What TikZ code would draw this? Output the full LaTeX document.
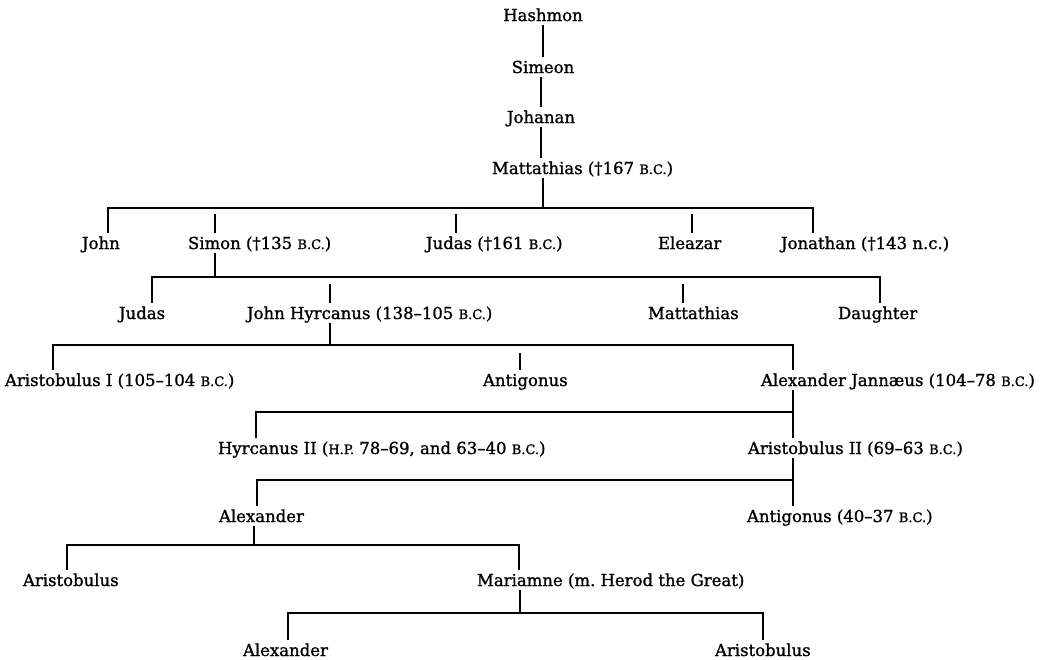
\documentclass[tikz,border=0pt]{standalone}
\usepackage{fontspec}
\setmainfont[FakeBold=1.2]{DejaVu Serif}
\usepackage{tikz}
\newcommand{\smcap}[1]{{\fontsize{13}{14}\selectfont #1}}
\tikzset{
  person/.style={anchor=base west,inner sep=0pt,outer xsep=0pt,outer ysep=4.5pt,
    text height=12pt,text depth=0pt,font=\fontsize{16.5}{19}\selectfont},
  tie/.style={line width=1.2pt,line cap=rect},
}

\begin{document}
\begin{tikzpicture}[x=1pt,y=-1pt]
  \useasboundingbox (0,0) rectangle (1049,659);
  % line of descent
  \node[person,anchor=base] (hashmon) at (543,21) {Hashmon};
  \node[person,anchor=base] (simeon) at (543,73) {Simeon};
  \node[person,anchor=base] (johanan) at (541,123) {Johanan};
  \node[person] (matt) at (492,174) {Mattathias (†167 \smcap{B.C.})};
  \draw[tie] (hashmon.south) -- (simeon.north);
  \draw[tie] (simeon.south -| johanan.north) -- (johanan.north);
  \draw[tie] (johanan.south) -- (johanan.south |- matt.north);
  % sons of Mattathias
  \node[person] (john) at (82,249) {John};
  \node[person] (simon) at (188,249) {Simon (†135 \smcap{B.C.})};
  \node[person] (judas) at (426,249) {Judas (†161 \smcap{B.C.})};
  \node[person] (eleazar) at (658,249) {Eleazar};
  \node[person] (jonathan) at (781,249) {Jonathan (†143 n.c.)};
  \coordinate (b1) at (543,208);
  \draw[tie] ([xshift=51pt]matt.south west) -- (b1);
  \draw[tie] ([xshift=26pt]john.north west) |- (b1) -| ([xshift=32pt]jonathan.north west);
  \draw[tie] ([xshift=27pt]simon.north west) -- ++(0,-18);
  \draw[tie] ([xshift=30pt]judas.north west) -- ++(0,-18);
  \draw[tie] ([xshift=34pt]eleazar.north west) -- ++(0,-18);
  % children of Simon
  \node[person] (judas2) at (119,319) {Judas};
  \node[person] (jh) at (247,319) {John Hyrcanus (138–105 \smcap{B.C.})};
  \node[person] (matt2) at (648,319) {Mattathias};
  \node[person] (daughter) at (838,319) {Daughter};
  \coordinate (b2) at (215,277);
  \draw[tie] ([xshift=27pt]simon.south west) -- (b2);
  \draw[tie] ([xshift=33pt]judas2.north west) |- (b2) -| ([xshift=42pt]daughter.north west);
  \draw[tie] ([xshift=83pt]jh.north west) -- ++(0,-18);
  \draw[tie] ([xshift=35pt]matt2.north west) -- ++(0,-18);
  % children of John Hyrcanus
  \node[person] (aristo1) at (5,386) {Aristobulus I (105–104 \smcap{B.C.})};
  \node[person] (antig) at (483,386) {Antigonus};
  \node[person] (aj) at (761,386) {Alexander Jannæus (104–78 \smcap{B.C.})};
  \coordinate (b3) at (330,345);
  \draw[tie] ([xshift=83pt]jh.south west) -- (b3);
  \draw[tie] ([xshift=48pt]aristo1.north west) |- (b3) -| ([xshift=32pt]aj.north west);
  \draw[tie] ([xshift=37pt]antig.north west) -- ++(0,-16);
  % children of Alexander Jannaeus
  \node[person] (hyrc2) at (218,454) {Hyrcanus II (\smcap{H.P.} 78–69, and 63–40 \smcap{B.C.})};
  \node[person] (aristo2) at (748,454) {Aristobulus II (69–63 \smcap{B.C.})};
  \coordinate (b4) at (793,412);
  \draw[tie] ([xshift=32pt]aj.south west) -- ([xshift=45pt]aristo2.north west);
  \draw[tie] ([xshift=38pt]hyrc2.north west) |- (b4);
  % children of Aristobulus II
  \node[person] (alex) at (219,522) {Alexander};
  \node[person] (antig2) at (747,522) {Antigonus (40–37 \smcap{B.C.})};
  \coordinate (b5) at (793,480);
  \draw[tie] ([xshift=45pt]aristo2.south west) -- ([xshift=46pt]antig2.north west);
  \draw[tie] ([xshift=38pt]alex.north west) |- (b5);
  % children of Alexander
  \node[person] (aristob) at (23,586) {Aristobulus};
  \node[person] (mariamne) at (477,586) {Mariamne (m.\ Herod the Great)};
  \coordinate (b6) at (254,545);
  \draw[tie] ([xshift=35pt]alex.south west) -- (b6);
  \draw[tie] ([xshift=44pt]aristob.north west) |- (b6) -| ([xshift=42pt]mariamne.north west);
  % children of Mariamne
  \node[person] (alex2) at (243,656) {Alexander};
  \node[person] (aristob2) at (715,656) {Aristobulus};
  \coordinate (b7) at (520,613);
  \draw[tie] ([xshift=43pt]mariamne.south west) -- (b7);
  \draw[tie] ([xshift=45pt]alex2.north west) |- (b7) -| ([xshift=48pt]aristob2.north west);
\end{tikzpicture}
\end{document}
